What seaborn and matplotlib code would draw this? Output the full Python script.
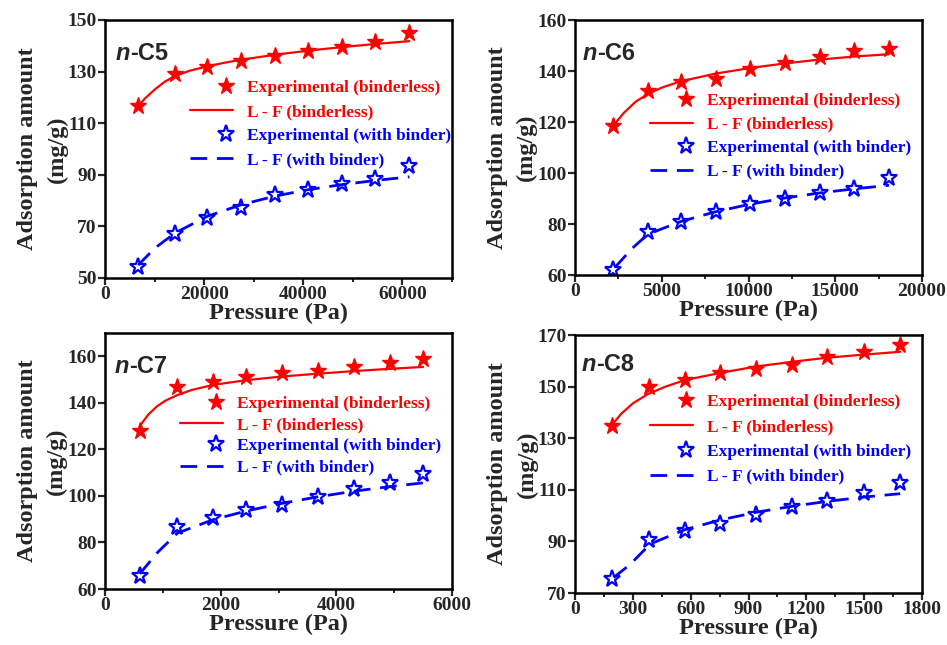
import matplotlib
matplotlib.use("Agg")
import matplotlib.pyplot as plt
import seaborn as sns
import numpy as np
import pandas as pd
from matplotlib.lines import Line2D
from matplotlib.ticker import MultipleLocator
from matplotlib.font_manager import FontProperties
from matplotlib.legend_handler import HandlerLine2D

sns.set_style("ticks")
plt.rcParams['font.family'] = ['Liberation Serif', 'DejaVu Serif']
plt.rcParams['font.weight'] = 'bold'
plt.rcParams['axes.labelweight'] = 'bold'

# ---------------- data ----------------
labels = ["n-C5", "n-C6", "n-C7", "n-C8"]
legend_labels = ["Experimental (binderless)", "L - F (binderless)",
                 "Experimental (with binder)", "L - F (with binder)"]

# n-C5
c5_p = [6700, 14100, 20600, 27500, 34200, 40900, 47800, 54550, 61400]
c5_exp_bl = [116.5, 129.0, 131.8, 134.2, 136.2, 137.8, 139.6, 141.5, 145.0]
c5_exp_wb = [54.3, 67.0, 73.3, 77.2, 82.0, 84.3, 86.3, 88.3, 93.3]
c5_fit_bl_p = [6700, 8000, 10000, 12000, 14000, 17000, 20600, 24000, 27500, 34200, 40900, 47800, 54550, 61400]
c5_fit_bl = [116.5, 119.5, 123.0, 126.0, 128.2, 130.3, 132.0, 133.4, 134.6, 136.5, 138.1, 139.5, 140.7, 141.8]
c5_fit_wb_p = [6700, 10000, 14100, 20600, 27500, 34200, 40900, 47800, 54550, 61400]
c5_fit_wb = [55.0, 61.5, 67.4, 73.9, 78.4, 81.7, 84.2, 86.2, 87.8, 89.2]

# n-C6
c6_p = [2200, 4200, 6100, 8100, 10100, 12100, 14100, 16100, 18100]
c6_exp_bl = [118.4, 132.3, 135.6, 137.0, 140.9, 143.3, 145.6, 148.0, 148.7]
c6_exp_wb = [61.9, 76.7, 80.7, 84.7, 88.0, 90.0, 92.0, 93.7, 98.0]
c6_fit_bl_p = [2200, 2800, 3500, 4200, 5000, 6100, 8100, 10100, 12100, 14100, 16100, 18100]
c6_fit_bl = [118.5, 123.5, 128.0, 131.0, 133.5, 136.0, 139.0, 141.2, 143.0, 144.5, 145.7, 146.6]
c6_fit_wb_p = [2300, 3300, 4200, 6100, 8100, 10100, 12100, 14100, 16100, 18100]
c6_fit_wb = [63.0, 70.5, 76.0, 81.0, 84.8, 87.8, 90.2, 92.2, 93.8, 95.2]

# n-C7
c7_p = [600, 1250, 1870, 2440, 3060, 3680, 4300, 4930, 5500]
c7_exp_bl = [127.9, 146.9, 149.0, 151.1, 152.9, 153.6, 155.4, 157.3, 158.9]
c7_exp_wb = [65.4, 86.6, 90.7, 94.0, 96.1, 99.7, 103.0, 105.4, 109.3]
c7_fit_bl_p = [600, 750, 900, 1050, 1250, 1500, 1870, 2440, 3060, 3680, 4300, 4930, 5500]
c7_fit_bl = [130.0, 135.0, 138.5, 141.0, 143.3, 145.5, 147.7, 149.7, 151.3, 152.5, 153.6, 154.6, 155.4]
c7_fit_wb_p = [600, 900, 1250, 1870, 2440, 3060, 3680, 4300, 4930, 5500]
c7_fit_wb = [66.5, 75.5, 84.0, 89.8, 93.5, 96.8, 99.6, 102.0, 104.0, 105.6]

# n-C8
c8_p = [190, 384, 568, 753, 940, 1125, 1307, 1500, 1687]
c8_exp_bl = [134.7, 149.9, 152.5, 155.4, 156.7, 158.4, 161.3, 163.5, 166.1]
c8_exp_wb = [75.3, 90.4, 93.9, 96.9, 100.4, 103.4, 105.7, 108.6, 112.8]
c8_fit_bl_p = [190, 240, 300, 380, 470, 568, 753, 940, 1125, 1307, 1500, 1687]
c8_fit_bl = [135.0, 139.5, 143.5, 147.2, 150.0, 152.5, 155.3, 157.8, 159.6, 161.2, 162.4, 163.5]
c8_fit_wb_p = [200, 285, 390, 568, 753, 940, 1125, 1307, 1500, 1687]
c8_fit_wb = [76.0, 81.0, 89.0, 94.5, 98.3, 101.3, 103.6, 105.5, 107.2, 108.5]

panels = [
    dict(p=c5_p, ebl=c5_exp_bl, ewb=c5_exp_wb, fblp=c5_fit_bl_p, fbl=c5_fit_bl,
         fwbp=c5_fit_wb_p, fwb=c5_fit_wb, xlim=(0, 70000), xmaj=20000, xmin=10000,
         ylim=(50, 150), yticks=[50, 70, 90, 110, 130, 150],
         rect=[0.1109, 0.569, 0.3664, 0.400], leg=(0.245, 0.768), lab=(0.030, 0.915), ls=0.46),
    dict(p=c6_p, ebl=c6_exp_bl, ewb=c6_exp_wb, fblp=c6_fit_bl_p, fbl=c6_fit_bl,
         fwbp=c6_fit_wb_p, fwb=c6_fit_wb, xlim=(0, 20000), xmaj=5000, xmin=2500,
         ylim=(60, 160), yticks=[60, 80, 100, 120, 140, 160],
         rect=[0.6072, 0.5736, 0.3664, 0.3953], leg=(0.216, 0.713), lab=(0.023, 0.914), ls=0.42),
    dict(p=c7_p, ebl=c7_exp_bl, ewb=c7_exp_wb, fblp=c7_fit_bl_p, fbl=c7_fit_bl,
         fwbp=c7_fit_wb_p, fwb=c7_fit_wb, xlim=(0, 6000), xmaj=2000, xmin=1000,
         ylim=(60, 170), yticks=[60, 80, 100, 120, 140, 160],
         rect=[0.1109, 0.0868, 0.3664, 0.397], leg=(0.216, 0.754), lab=(0.029, 0.914), ls=0.29),
    dict(p=c8_p, ebl=c8_exp_bl, ewb=c8_exp_wb, fblp=c8_fit_bl_p, fbl=c8_fit_bl,
         fwbp=c8_fit_wb_p, fwb=c8_fit_wb, xlim=(0, 1800), xmaj=300, xmin=150,
         ylim=(70, 170), yticks=[70, 90, 110, 130, 150, 170],
         rect=[0.6072, 0.0806, 0.3664, 0.400], leg=(0.216, 0.771), lab=(0.020, 0.930), ls=0.5),
]

RED = "#ff0000"
BLUE = "#0000ff"


class RightMarkerHandler(HandlerLine2D):
    """Place the single legend marker near the right end of the handle."""
    def get_xdata(self, legend, xdescent, ydescent, width, height, fontsize):
        xdata = np.array([-xdescent + 0.64 * width, -xdescent + width], float)
        xm = np.array([-xdescent + 0.82 * width])
        return xdata, xm


fig = plt.figure(figsize=(9.47, 6.45), dpi=100)
legend_font = FontProperties(family='Liberation Serif', weight='bold', size=12.5)

for name, pn in zip(labels, panels):
    ax = fig.add_axes(pn["rect"])
    # fits
    sns.lineplot(x=pn["fblp"], y=pn["fbl"], ax=ax, color=RED, lw=1.6,
                 estimator=None, sort=False, errorbar=None)
    sns.lineplot(x=pn["fwbp"], y=pn["fwb"], ax=ax, color=BLUE, lw=2.0,
                 linestyle=(0, (6, 3.5)), estimator=None, sort=False, errorbar=None)
    # experiments
    sns.lineplot(x=pn["p"], y=pn["ebl"], ax=ax, color=RED, linestyle="",
                 marker="*", markersize=12.5, markerfacecolor=RED, markeredgecolor=RED,
                 markeredgewidth=1.0, estimator=None, sort=False, errorbar=None)
    sns.lineplot(x=pn["p"], y=pn["ewb"], ax=ax, color=BLUE, linestyle="",
                 marker="*", markersize=12.5, markerfacecolor="none", markeredgecolor=BLUE,
                 markeredgewidth=1.6, estimator=None, sort=False, errorbar=None)

    ax.set_xlim(*pn["xlim"])
    ax.set_ylim(*pn["ylim"])
    ax.xaxis.set_major_locator(MultipleLocator(pn["xmaj"]))
    ax.xaxis.set_minor_locator(MultipleLocator(pn["xmin"]))
    ax.set_yticks(pn["yticks"])
    ax.tick_params(axis='both', which='major', direction='out', length=5, width=1.6,
                   labelsize=14, pad=1)
    ax.tick_params(axis='x', which='minor', direction='out', length=3, width=1.4)
    for sp in ax.spines.values():
        sp.set_linewidth(1.8)
        sp.set_visible(True)
        sp.set_color('black')
    for t in ax.get_xticklabels() + ax.get_yticklabels():
        t.set_fontweight('bold')

    ax.set_xlabel("Pressure (Pa)", fontsize=17.5, fontweight='bold', labelpad=0)
    ax.set_ylabel("Adsorption amount\n(mg/g)", fontsize=17.5, fontweight='bold',
                  labelpad=0, linespacing=1.5)

    # panel label: italic n + "-C5"
    t1 = ax.text(pn["lab"][0], pn["lab"][1], "n", transform=ax.transAxes,
                 family=['Liberation Sans', 'DejaVu Sans'], style='italic',
                 weight='bold', fontsize=17, va='top', ha='left')
    ax.annotate(name[1:], xy=(1, 0), xycoords=t1, va='bottom', ha='left',
                family=['Liberation Sans', 'DejaVu Sans'], weight='bold', fontsize=17)

    handles = [
        Line2D([], [], color=RED, linestyle="", marker="*", markersize=12.5,
               markerfacecolor=RED, markeredgecolor=RED),
        Line2D([], [], color=RED, lw=1.6),
        Line2D([], [], color=BLUE, linestyle="", marker="*", markersize=12.5,
               markerfacecolor="none", markeredgecolor=BLUE, markeredgewidth=1.6),
        Line2D([], [], color=BLUE, lw=2.0, linestyle=(0, (6, 3.5))),
    ]
    hmap = {handles[0]: RightMarkerHandler(numpoints=1),
            handles[2]: RightMarkerHandler(numpoints=1)}
    ax.legend(handles, legend_labels, loc='upper left', bbox_to_anchor=pn["leg"],
              frameon=False, borderpad=0, borderaxespad=0, handlelength=2.5,
              handletextpad=0.8, labelspacing=pn["ls"], prop=legend_font,
              labelcolor='linecolor', numpoints=1, handler_map=hmap)

fig.savefig("out.png", dpi=100)
